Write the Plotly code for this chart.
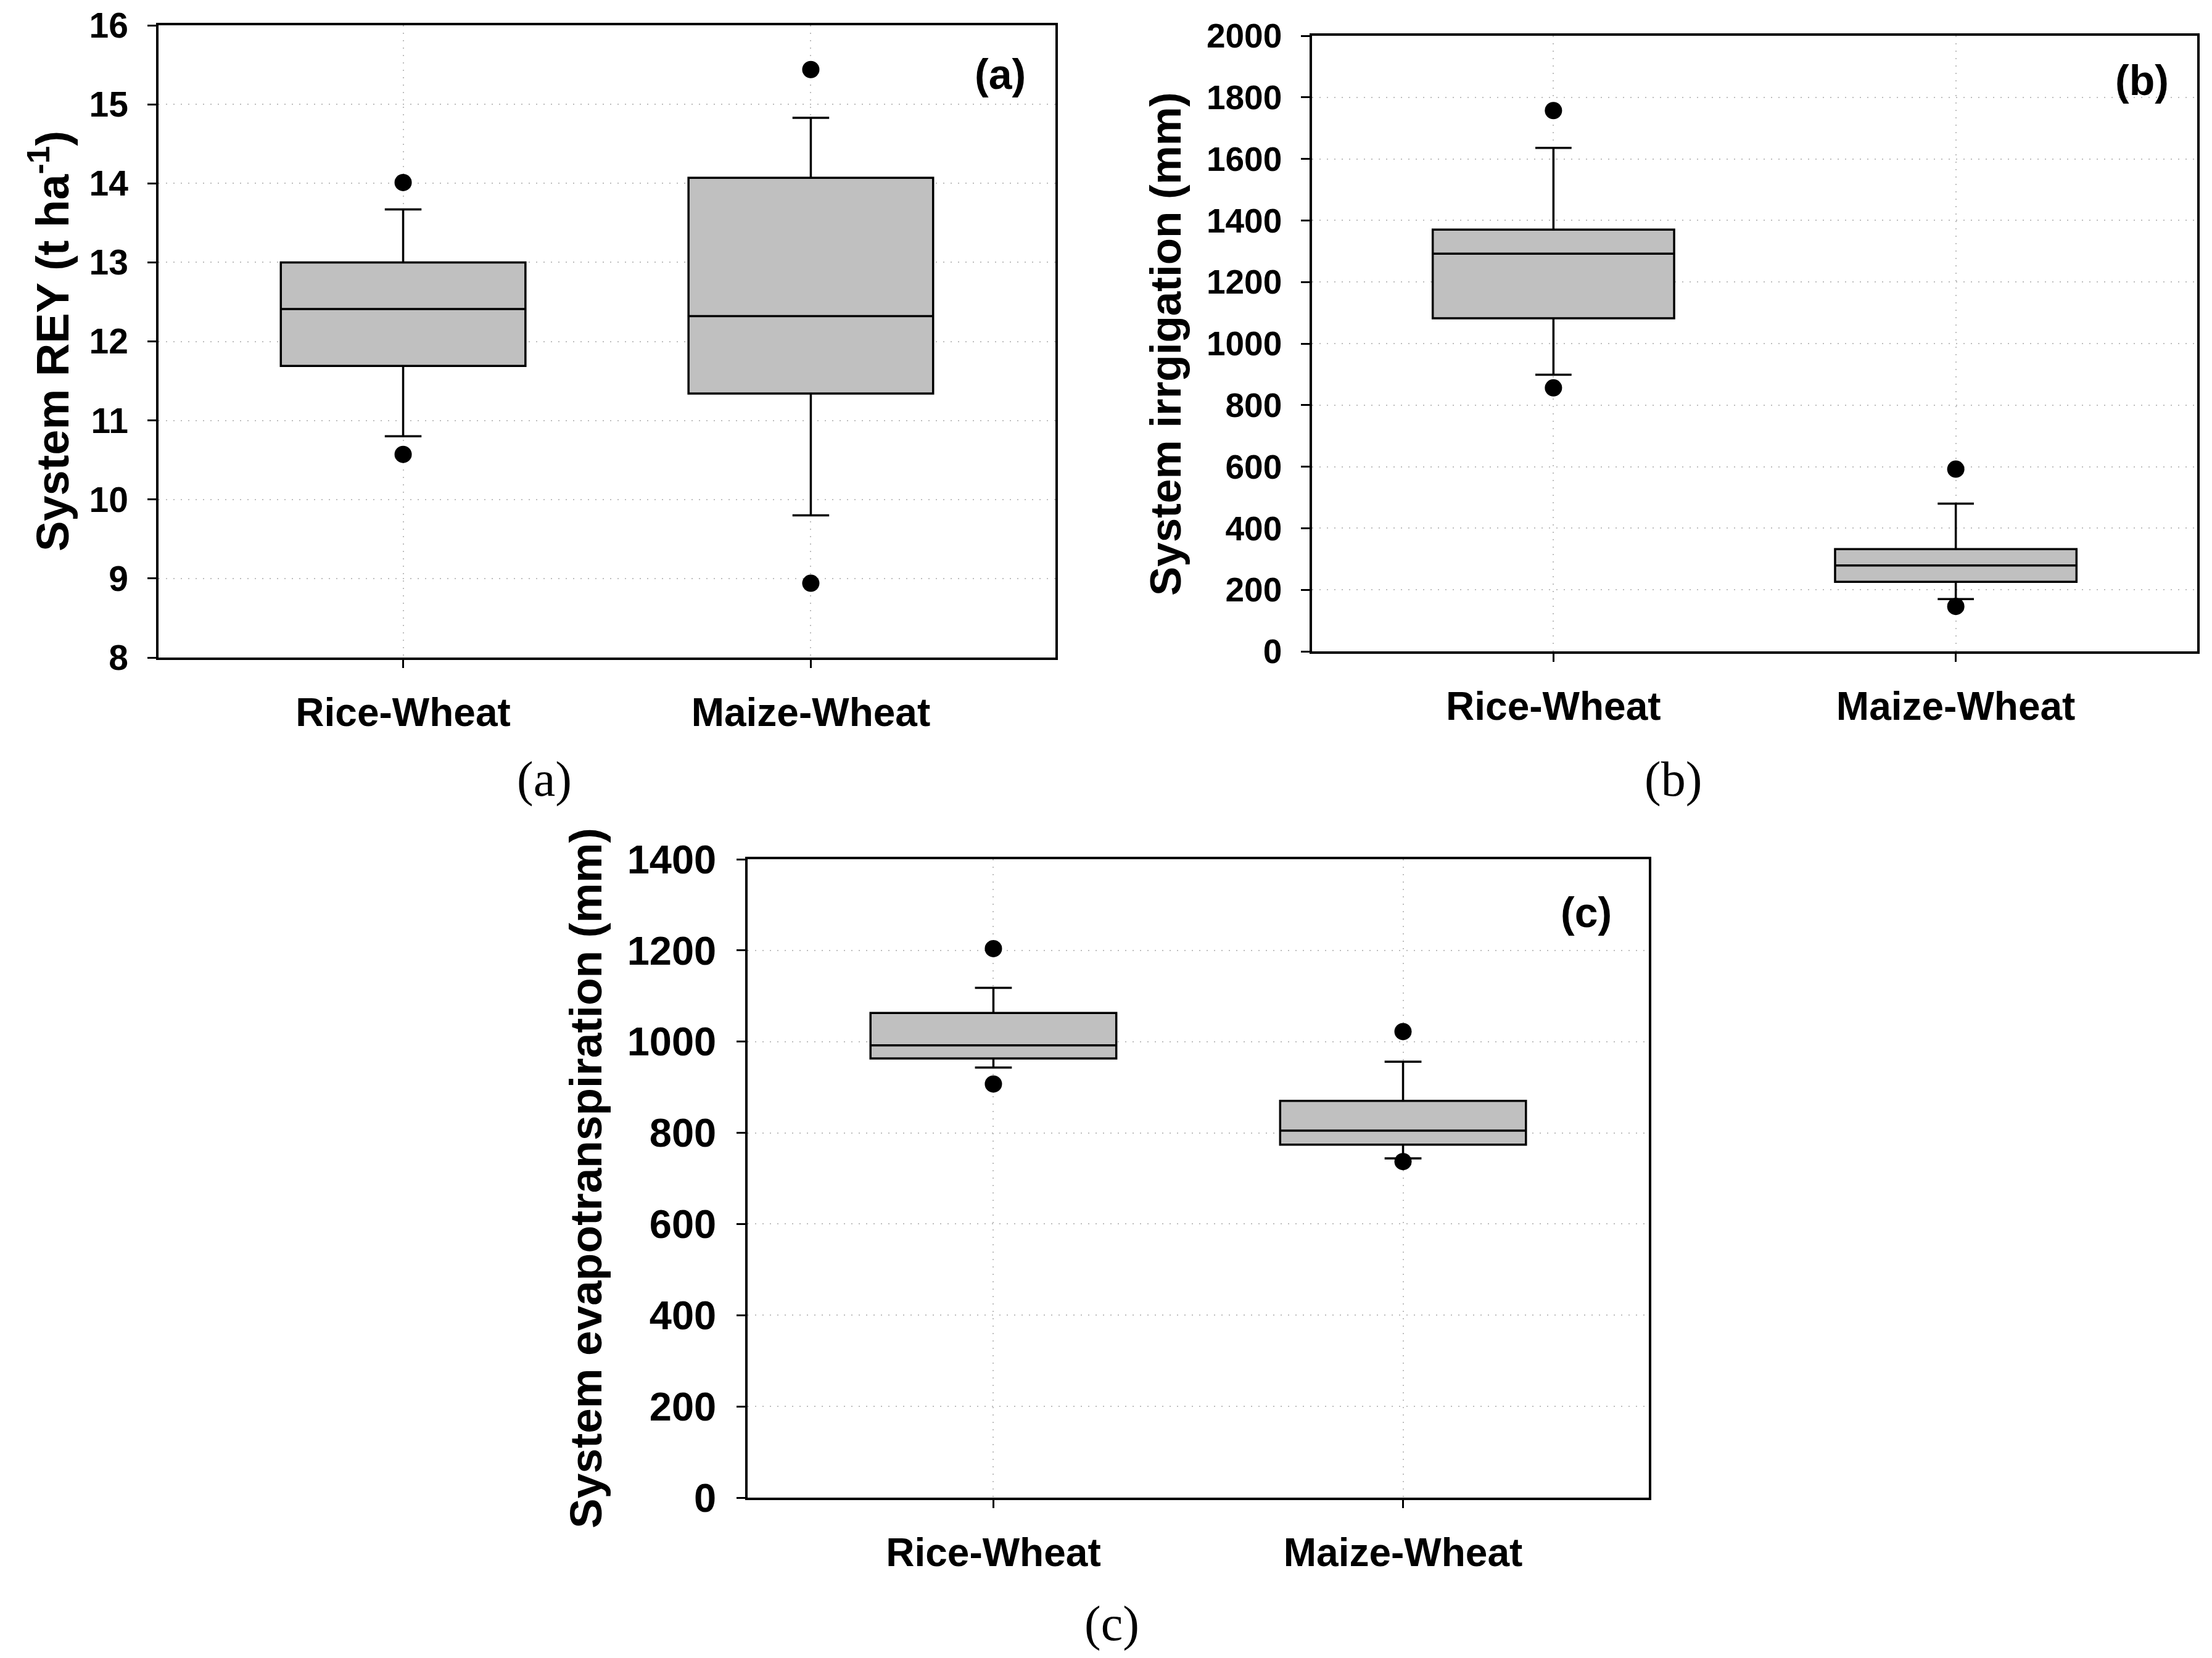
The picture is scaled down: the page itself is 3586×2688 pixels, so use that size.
import plotly.graph_objects as go

# Box statistics (Rice-Wheat, Maize-Wheat)
systems = ["Rice-Wheat", "Maize-Wheat"]

# (a) System REY (t ha-1)
rey_lower = [10.80, 9.80]
rey_q1 = [11.69, 11.34]
rey_median = [12.41, 12.32]
rey_q3 = [13.00, 14.07]
rey_upper = [13.67, 14.83]
rey_outliers = [[14.01, 10.57], [15.44, 8.94]]

# (b) System irrigation (mm)
irr_lower = [899, 170]
irr_q1 = [1082, 226]
irr_median = [1292, 279]
irr_q3 = [1370, 332]
irr_upper = [1636, 480]
irr_outliers = [[1757, 856], [592, 146]]

# (c) System evapotranspiration (mm)
et_lower = [943, 744]
et_q1 = [963, 774]
et_median = [992, 805]
et_q3 = [1063, 870]
et_upper = [1118, 956]
et_outliers = [[1204, 907], [1022, 737]]

W, H = 3586, 2688
OFF = 8  # page body margin
SANS = "Liberation Sans, Arial, Helvetica, sans-serif"
SERIF = "Liberation Serif, Times New Roman, DejaVu Serif, serif"


def fx(px):
    return (px - OFF) / W


def fy(px):
    return 1 - (px - OFF) / H


panels = [
    dict(stats=(rey_lower, rey_q1, rey_median, rey_q3, rey_upper), out=rey_outliers,
         xdom=[fx(257), fx(1711)], ydom=[fy(1066), fy(41)],
         yrange=[8, 16], dtick=1, tsize=57),
    dict(stats=(irr_lower, irr_q1, irr_median, irr_q3, irr_upper), out=irr_outliers,
         xdom=[fx(2127), fx(3562)], ydom=[fy(1056), fy(58)],
         yrange=[0, 2000], dtick=200, tsize=55),
    dict(stats=(et_lower, et_q1, et_median, et_q3, et_upper), out=et_outliers,
         xdom=[fx(1212), fx(2673)], ydom=[fy(2428), fy(1393)],
         yrange=[0, 1400], dtick=200, tsize=65),
]

fig = go.Figure()
layout = {}

for i, p in enumerate(panels):
    n = "" if i == 0 else str(i + 1)
    xa, ya = "x" + n, "y" + n
    lo, q1, med, q3, up = p["stats"]
    fig.add_trace(go.Box(
        x=systems, q1=q1, median=med, q3=q3, lowerfence=lo, upperfence=up,
        boxpoints=False, width=0.6, whiskerwidth=0.15,
        fillcolor="#C0C0C0", line=dict(color="black", width=3.5),
        xaxis=xa, yaxis=ya, showlegend=False, hoverinfo="skip",
    ))
    ox, oy = [], []
    for s, vals in zip(systems, p["out"]):
        ox += [s] * len(vals)
        oy += vals
    fig.add_trace(go.Scatter(
        x=ox, y=oy, mode="markers",
        marker=dict(color="black", size=28),
        xaxis=xa, yaxis=ya, showlegend=False, hoverinfo="skip",
    ))
    common = dict(showline=True, mirror=True, linecolor="black", linewidth=3.5,
                  ticks="outside", tickwidth=3, tickcolor="black",
                  showgrid=True, gridcolor="#BDBDBD", griddash="2px,10px", gridwidth=2,
                  zeroline=False, automargin=False)
    layout["xaxis" + n] = dict(
        common, domain=p["xdom"], anchor=ya, type="category",
        categoryorder="array", categoryarray=systems,
        range=[-0.6, 1.6], ticklen=13, ticklabelstandoff=17,
        tickfont=dict(family=SANS, size=64, color="black", weight="bold"),
    )
    layout["yaxis" + n] = dict(
        common, domain=p["ydom"], anchor=xa, range=p["yrange"], dtick=p["dtick"],
        ticklen=14, ticklabelstandoff=20,
        tickfont=dict(family=SANS, size=p["tsize"], color="black", weight="bold"),
    )

titles = [
    ("System REY (t ha<sup>-1</sup>)", 80, 553, 74),
    ("System irrgigation (mm)", 1890, 557, 71),
    ("System evapotranspiration (mm)", 949, 1910, 73),
]
annotations = []
for text, x, y, size in titles:
    annotations.append(dict(
        text=text, x=fx(x), y=fy(y), xref="paper", yref="paper",
        textangle=-90, showarrow=False, xanchor="center", yanchor="middle",
        font=dict(family=SANS, size=size, color="black", weight="bold"),
    ))

inner = [("(a)", 1621, 120), ("(b)", 3472, 130), ("(c)", 2571, 1479)]
for text, x, y in inner:
    annotations.append(dict(
        text=text, x=fx(x), y=fy(y), xref="paper", yref="paper",
        showarrow=False, xanchor="center", yanchor="middle",
        font=dict(family=SANS, size=68, color="black", weight="bold"),
    ))

captions = [("(a)", 882, 1263), ("(b)", 2712, 1263), ("(c)", 1802, 2632)]
for text, x, y in captions:
    annotations.append(dict(
        text=text, x=fx(x), y=fy(y), xref="paper", yref="paper",
        showarrow=False, xanchor="center", yanchor="middle",
        font=dict(family=SERIF, size=80, color="black"),
    ))

fig.update_layout(
    width=W, height=H, margin=dict(l=0, r=0, t=0, b=0),
    paper_bgcolor="white", plot_bgcolor="white",
    annotations=annotations, **layout,
)

fig.write_html("out.html")
